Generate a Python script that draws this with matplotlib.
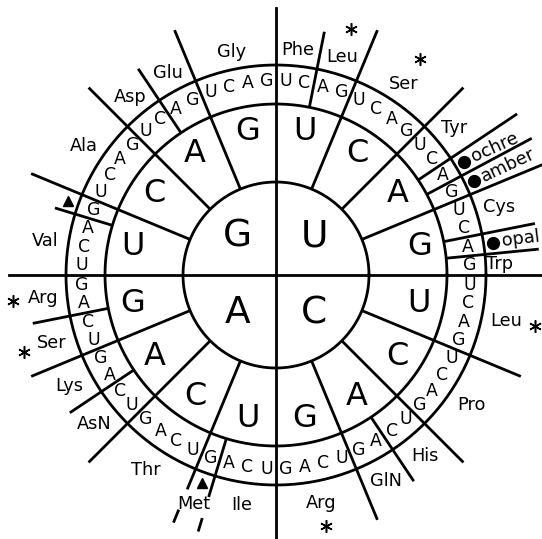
import numpy as np
import matplotlib

matplotlib.use('Agg')
import matplotlib.pyplot as plt

# genetic code wheel: first base in the centre, third base on the outer ring
BASES = ['U', 'C', 'A', 'G']

AMINO = [
    'Phe', 'Phe', 'Leu', 'Leu',      # UU
    'Ser', 'Ser', 'Ser', 'Ser',      # UC
    'Tyr', 'Tyr', 'ochre', 'amber',  # UA
    'Cys', 'Cys', 'opal', 'Trp',     # UG
    'Leu', 'Leu', 'Leu', 'Leu',      # CU
    'Pro', 'Pro', 'Pro', 'Pro',      # CC
    'His', 'His', 'GlN', 'GlN',      # CA
    'Arg', 'Arg', 'Arg', 'Arg',      # CG
    'Ile', 'Ile', 'Ile', 'Met',      # AU
    'Thr', 'Thr', 'Thr', 'Thr',      # AC
    'AsN', 'AsN', 'Lys', 'Lys',      # AA
    'Ser', 'Ser', 'Arg', 'Arg',      # AG
    'Val', 'Val', 'Val', 'Val',      # GU
    'Ala', 'Ala', 'Ala', 'Ala',      # GC
    'Asp', 'Asp', 'Glu', 'Glu',      # GA
    'Gly', 'Gly', 'Gly', 'Gly',      # GG
]
START = ['AUG', 'GUG']
STOPS = ['ochre', 'amber', 'opal']
SIX_FOLD = ['Leu', 'Ser', 'Arg']

R_IN, R_MID, R_OUT = 93, 171, 210
STEP = 360 / 64
LW = 2.0
FS = 12.8


def xy(r, pos):
    # pos counts codons clockwise from the top
    a = np.deg2rad(90 - pos * STEP)
    return r * np.cos(a), r * np.sin(a)


def radial(r0, r1, pos):
    x0, y0 = xy(r0, pos)
    x1, y1 = xy(r1, pos)
    ax.plot([x0, x1], [y0, y1], color='black', lw=LW, solid_capstyle='butt')


codons = [f + s + t for f in BASES for s in BASES for t in BASES]

groups = []  # [aa, start, end, is_start]
for i, (c, aa) in enumerate(zip(codons, AMINO)):
    st = c in START
    if groups and groups[-1][0] == aa and not st and not groups[-1][3]:
        groups[-1][2] = i + 1
    else:
        groups.append([aa, i, i + 1, st])

fig = plt.figure(figsize=(5.42, 5.39), dpi=100)
ax = fig.add_axes([0, 0, 1, 1])
ax.set_xlim(-276, 266)
ax.set_ylim(-264, 275)
ax.axis('off')

t = np.linspace(0, 2 * np.pi, 500)
for r in [R_IN, R_MID, R_OUT]:
    ax.plot(r * np.cos(t), r * np.sin(t), color='black', lw=LW)

# big cross
ax.plot([-267, 267], [0, 0], color='black', lw=LW)
ax.plot([0, 0], [-267, 267], color='black', lw=LW)

# boundaries between groups
for n, g in enumerate(groups):
    b = g[1]
    if b % 16 == 0:
        continue
    prev = groups[n - 1]
    names = [prev[0], g[0]]
    sector = b % 4 == 0
    r0 = R_IN if sector else R_MID
    if 'Met' in names:
        radial(r0, 232, b)
        radial(254, 268, b)
        continue
    if 'ochre' in names or 'amber' in names:
        r1 = 290
    elif sector:
        r1 = 265
    elif prev[3] or g[3]:
        r1 = 231
    elif 'opal' in names:
        r1 = 264
    else:
        r1 = 248
    radial(r0, r1, b)

# first letters
for i, b in enumerate(BASES):
    x, y = xy(54, i * 16 + 8)
    ax.text(x, y, b, fontsize=27, ha='center', va='center')

# second letters
for i in range(4):
    for j, b in enumerate(BASES):
        x, y = xy(146, i * 16 + j * 4 + 2)
        ax.text(x, y, b, fontsize=23, ha='center', va='center')

# third letters
for k, c in enumerate(codons):
    x, y = xy(194, k + 0.5)
    ax.text(x, y, c[2], fontsize=12.5, ha='center', va='center')

STOP_ROT = {'ochre': 24, 'amber': 25, 'opal': 7}
LABEL_R = {'Trp': 224, 'Met': 243}

for aa, s, e, st in groups:
    mid = (s + e) / 2
    a = np.deg2rad(90 - mid * STEP)
    if st:
        x, y = xy(221, mid)
        ax.plot(x, y, marker='^', color='black', ms=7.5)
        if aa != 'Met':
            continue
    if aa in STOPS:
        x, y = xy(219, mid)
        ax.plot(x, y, marker='o', color='black', ms=8.5)
        x, y = xy(228, mid)
        ax.text(x, y, aa, fontsize=FS, ha='left', va='center',
                rotation=STOP_ROT[aa], rotation_mode='anchor')
        continue
    r = LABEL_R.get(aa, 229 + 5 * abs(np.cos(a)) - 3 * np.sin(a))
    x, y = xy(r, mid)
    ax.text(x, y, aa, fontsize=FS, ha='center', va='center')
    if aa in SIX_FOLD:
        x, y = xy(254 + 10 * abs(np.cos(a)), mid)
        ax.plot(x, y, marker=(6, 2, 0), color='black', ms=9, mew=1.1)

fig.savefig('out.png', dpi=100, facecolor='white')
plt.close(fig)
